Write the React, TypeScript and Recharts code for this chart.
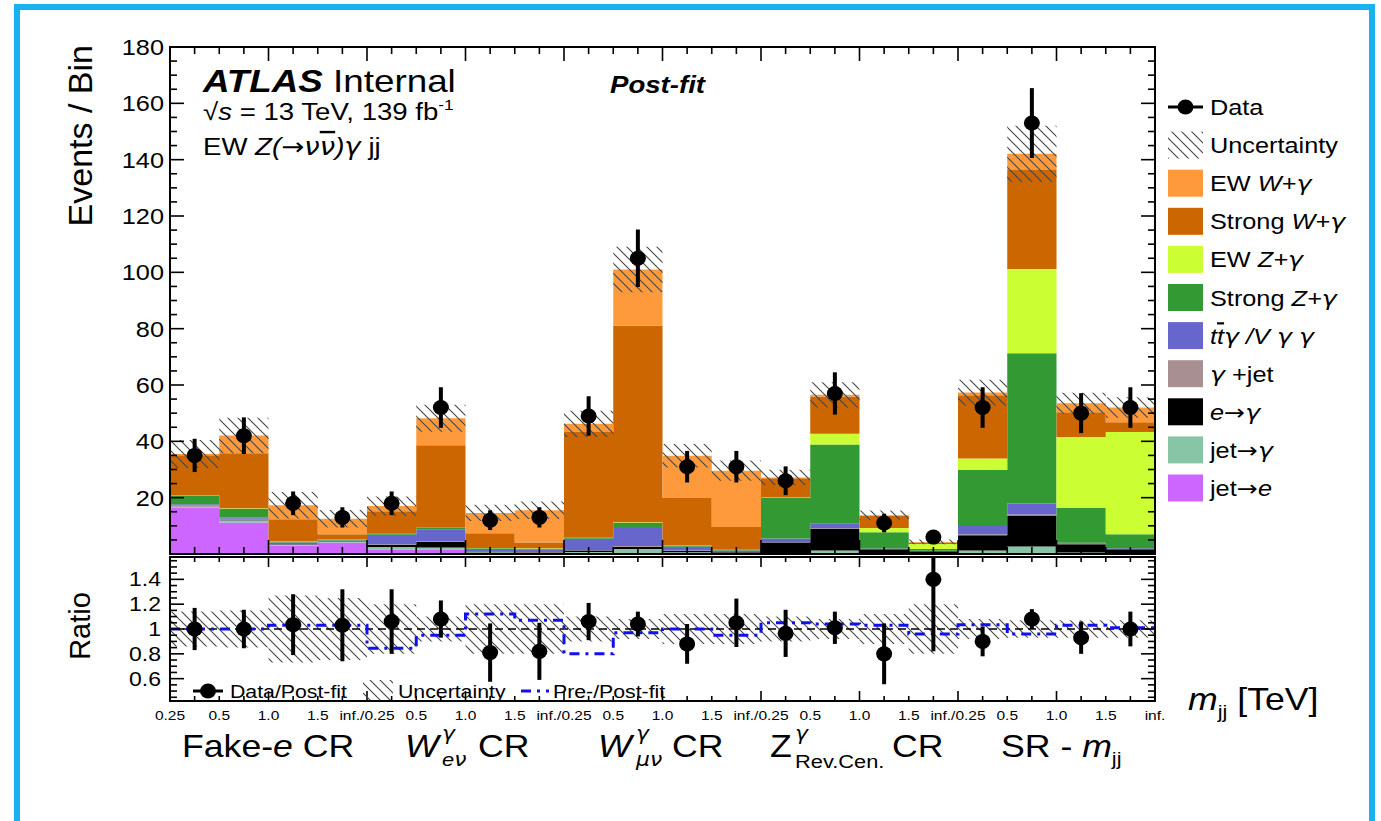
import React from "react";
import { ComposedChart, Area, Line, Scatter, ErrorBar, XAxis, YAxis, ReferenceLine } from "recharts";

// bin edge labels under the ratio panel (m_jj in TeV, 4 bins per region)
const edgeLabels = [
  "0.25", "0.5", "1.0", "1.5", "inf./0.25", "0.5", "1.0", "1.5", "inf./0.25", "0.5", "1.0",
  "1.5", "inf./0.25", "0.5", "1.0", "1.5", "inf./0.25", "0.5", "1.0", "1.5", "inf.",
];

// stacked backgrounds, bottom to top (events per bin)
const jetToE = [16.5, 11.2, 2.9, 4.1, 1.5, 1.5, 0.3, 0.2, 0.2, 0.3, 0.2, 0.1, 0, 0, 0, 0, 0, 0, 0, 0];
const jetToGamma = [0.3, 0.8, 0.3, 0.2, 1.0, 0.8, 0.3, 0.2, 0.5, 1.5, 0.4, 0.2, 0.3, 1.2, 0.3, 0.2, 1.2, 2.7, 0.5, 0.3];
const eToGamma = [0.1, 0.1, 0.2, 0.1, 0.8, 2.0, 0.3, 0.2, 0.5, 0.8, 0.5, 0.3, 3.8, 7.8, 1.4, 0.8, 5.5, 11.0, 3.0, 1.4];
const gammaJet = [0.3, 0.4, 0.1, 0.1, 0.2, 0.2, 0.1, 0.1, 0.1, 0.2, 0.1, 0.1, 0.1, 0.1, 0.05, 0.05, 0.3, 0.3, 0.1, 0.1];
const ttVgg = [0.5, 0.5, 0.6, 0.3, 3.3, 4.3, 0.8, 1.0, 4.1, 6.8, 1.4, 0.5, 1.3, 1.8, 0.2, 0.1, 2.9, 3.9, 0.4, 0.2];
const strongZ = [3.0, 3.1, 0.2, 0.4, 0.3, 0.4, 0.2, 0.2, 0.3, 1.5, 0.3, 0.2, 14.4, 28.0, 5.8, 0.65, 19.9, 53.4, 12.4, 5.0];
const ewZ = [0.1, 0.1, 0.1, 0.1, 0.1, 0.1, 0.1, 0.1, 0.1, 0.2, 0.1, 0.1, 0.2, 3.8, 1.5, 1.75, 4.1, 29.9, 25.1, 36.3];
const strongW = [14.3, 19.6, 7.9, 1.7, 8.0, 29.3, 5.3, 2.1, 37.5, 69.7, 16.9, 8.1, 6.8, 13.2, 4.25, 0.55, 22.5, 35.1, 8.8, 3.5];
const ewW = [0.4, 6.3, 5.0, 5.5, 1.8, 9.6, 7.2, 11.4, 2.9, 20.0, 15.0, 20.0, 0.3, 0.6, 0.3, 0.2, 0.9, 5.8, 3.2, 5.2];

// relative post-fit uncertainty per bin
const relUnc = [0.14, 0.15, 0.27, 0.25, 0.2, 0.1, 0.2, 0.2, 0.1, 0.08, 0.12, 0.12, 0.1, 0.08, 0.12, 0.2, 0.08, 0.07, 0.07, 0.07];

// data
const dataCounts = [35, 42, 18, 13, 18, 52, 12, 13, 49, 105, 31, 31, 26, 57, 11, 6, 52, 153, 50, 52];
const dataErr = [5.9, 6.5, 4.2, 3.6, 4.2, 7.2, 3.5, 3.6, 7.0, 10.2, 5.6, 5.6, 5.1, 7.5, 3.3, 2.4, 7.2, 12.4, 7.1, 7.2];

// ratio panel
const ratioVals = [1.0, 1.0, 1.035, 1.03, 1.06, 1.08, 0.81, 0.82, 1.06, 1.04, 0.88, 1.05, 0.965, 1.01, 0.8, 1.4, 0.9, 1.08, 0.93, 1.0];
const ratioErrLo = [0.17, 0.155, 0.245, 0.29, 0.26, 0.15, 0.235, 0.23, 0.15, 0.1, 0.16, 0.195, 0.19, 0.13, 0.245, 0.58, 0.12, 0.08, 0.13, 0.14];
const ratioErrHi = [0.17, 0.155, 0.245, 0.29, 0.26, 0.15, 0.235, 0.23, 0.15, 0.1, 0.16, 0.195, 0.19, 0.13, 0.245, 0.18, 0.12, 0.08, 0.13, 0.14];
const preOverPost = [1.0, 1.0, 1.03, 1.03, 0.845, 0.95, 1.12, 1.07, 0.8, 0.97, 1.0, 0.95, 1.05, 1.04, 1.03, 0.96, 1.035, 0.96, 1.03, 1.01];

const series = [
  { key: "jetE", vals: jetToE, color: "#cc66ff" },
  { key: "jetG", vals: jetToGamma, color: "#88c4a6" },
  { key: "eG", vals: eToGamma, color: "#000000" },
  { key: "gJet", vals: gammaJet, color: "#a89092" },
  { key: "tt", vals: ttVgg, color: "#6666cc" },
  { key: "strongZ", vals: strongZ, color: "#339933" },
  { key: "ewZ", vals: ewZ, color: "#ccff33" },
  { key: "strongW", vals: strongW, color: "#cc6600" },
  { key: "ewW", vals: ewW, color: "#ff9a3c" },
];

const FONT = "'Liberation Sans', Arial, Helvetica, sans-serif";
const SYM = "'DejaVu Sans', sans-serif";
const SX = 1.15;
const W = 1381;
const PL = 170;
const PR = 1155;
const PT = 47;
const PB = 554;
// ratio panel, in the ratio chart's own coordinates (chart placed at top 540)
const R_OFF = 540;
const RT = 557 - R_OFF;
const RB = 701 - R_OFF;

const nBins = dataCounts.length;
const mainRows = Array.from({ length: nBins + 1 }, (_, i) => {
  const b = Math.min(i, nBins - 1);
  const row: any = { x: i };
  let tot = 0;
  series.forEach((s) => {
    row[s.key] = s.vals[b];
    tot += s.vals[b];
  });
  row.band = [tot * (1 - relUnc[b]), tot * (1 + relUnc[b])];
  return row;
});
const dataPts = dataCounts.map((v, i) => ({ x: i + 0.5, y: v, err: dataErr[i] }));

const ratioRows = Array.from({ length: nBins + 1 }, (_, i) => {
  const b = Math.min(i, nBins - 1);
  return { x: i, band: [1 - relUnc[b], 1 + relUnc[b]], pre: preOverPost[b] };
});
const ratioPts = ratioVals.map((v, i) => ({ x: i + 0.5, y: v, err: [ratioErrLo[i], ratioErrHi[i]] }));

const halfTicks = Array.from({ length: 41 }, (_, i) => i / 2);
const mainYTicks = Array.from({ length: 37 }, (_, i) => i * 5);
const ratioYTicks = Array.from({ length: 23 }, (_, i) => Math.round((0.45 + i * 0.05) * 100) / 100);

function T({ x, y, size, anchor = "start", weight = "normal", italic = false, rotate = 0, children }: any) {
  const tr = rotate ? `translate(${x} ${y}) rotate(${rotate})` : `translate(${x} ${y}) scale(${SX} 1)`;
  return (
    <text transform={tr} fontSize={size} textAnchor={anchor} fontFamily={FONT} fontWeight={weight}
      fontStyle={italic ? "italic" : "normal"} fill="#000">
      {children}
    </text>
  );
}

const Arrow = () => <tspan fontFamily={SYM} fontStyle="normal">→</tspan>;
const G = ({ s }: { s: string }) => <tspan fontFamily={SYM} fontStyle="italic">{s}</tspan>;

const Hatch = ({ id }: { id: string }) => (
  <defs>
    <pattern id={id} patternUnits="userSpaceOnUse" width="10" height="10">
      <path d="M0,0 L10,10 M-5,5 L5,15 M5,-5 L15,5" stroke="#444" strokeWidth="1.1" />
    </pattern>
  </defs>
);

const MainXTick = (p: any) => {
  const x = p.x;
  const len = p.payload.value % 2 === 0 ? 14 : 7;
  return (
    <g stroke="#000" strokeWidth={1.6}>
      <line x1={x} x2={x} y1={PB} y2={PB - len} />
      <line x1={x} x2={x} y1={PT} y2={PT + len} />
    </g>
  );
};

const MainYTick = (p: any) => {
  const v = p.payload.value;
  const y = p.y;
  const major = v % 20 === 0;
  const len = major ? 14 : 7;
  return (
    <g>
      <g stroke="#000" strokeWidth={1.6}>
        <line x1={PL} x2={PL + len} y1={y} y2={y} />
        <line x1={PR} x2={PR - len} y1={y} y2={y} />
      </g>
      {major && v > 0 && (
        <T x={164} y={y + 8} size={22} anchor="end">{v}</T>
      )}
    </g>
  );
};

const RatioXTick = (p: any) => {
  const x = p.x;
  const v = p.payload.value;
  const len = v % 2 === 0 ? 10 : 5;
  return (
    <g>
      <g stroke="#000" strokeWidth={1.6}>
        <line x1={x} x2={x} y1={RB} y2={RB - len} />
        <line x1={x} x2={x} y1={RT} y2={RT + len} />
      </g>
      {Number.isInteger(v) && (
        <T x={x} y={RB + 19} size={13.5} anchor="middle">{edgeLabels[v]}</T>
      )}
    </g>
  );
};

const RatioYTick = (p: any) => {
  const v = p.payload.value;
  const y = p.y;
  const major = Math.abs(v * 5 - Math.round(v * 5)) < 1e-6;
  const len = major ? 14 : 7;
  return (
    <g>
      <g stroke="#000" strokeWidth={1.6}>
        <line x1={PL} x2={PL + len} y1={y} y2={y} />
        <line x1={PR} x2={PR - len} y1={y} y2={y} />
      </g>
      {major && v > 0.5 && v < 1.5 && (
        <T x={161} y={y + 7} size={20} anchor="end">{String(v)}</T>
      )}
    </g>
  );
};

const dot = (p: any) => <ellipse cx={p.cx} cy={p.cy} rx={8} ry={7.5} fill="#000" />;

function MainChart() {
  return (
    <ComposedChart width={W} height={575} data={mainRows} margin={{ top: PT, right: W - PR, bottom: 0, left: PL - 60 }}>
      <Hatch id="hatchMain" />
      <XAxis dataKey="x" type="number" domain={[0, 20]} ticks={halfTicks} interval={0} height={21}
        axisLine={false} tickLine={false} tick={MainXTick} />
      <YAxis type="number" domain={[0, 180]} ticks={mainYTicks} interval={0} width={60}
        axisLine={false} tickLine={false} tick={MainYTick} />
      {series.map((s) => (
        <Area key={s.key} dataKey={s.key} stackId="bkg" type="stepAfter" fill={s.color} fillOpacity={1}
          stroke="none" isAnimationActive={false} dot={false} activeDot={false} />
      ))}
      <Area dataKey="band" type="stepAfter" fill="url(#hatchMain)" fillOpacity={1} stroke="none"
        isAnimationActive={false} dot={false} activeDot={false} />
      <Scatter data={dataPts} dataKey="y" shape={dot} isAnimationActive={false}>
        <ErrorBar dataKey="err" direction="y" width={0} stroke="#000" strokeWidth={4} />
      </Scatter>
    </ComposedChart>
  );
}

function RatioChart() {
  return (
    <ComposedChart width={W} height={190} data={ratioRows} margin={{ top: RT, right: W - PR, bottom: 0, left: PL - 60 }}>
      <Hatch id="hatchRatio" />
      <XAxis dataKey="x" type="number" domain={[0, 20]} ticks={halfTicks} interval={0} height={190 - RB}
        axisLine={false} tickLine={false} tick={RatioXTick} />
      <YAxis type="number" domain={[0.42, 1.58]} ticks={ratioYTicks} interval={0} width={60}
        axisLine={false} tickLine={false} tick={RatioYTick} />
      <Area dataKey="band" type="stepAfter" fill="url(#hatchRatio)" fillOpacity={1} stroke="none"
        isAnimationActive={false} dot={false} activeDot={false} />
      <ReferenceLine y={1} stroke="#000" strokeWidth={1.5} strokeDasharray="8 5" />
      <Line dataKey="pre" type="stepAfter" stroke="#1010f0" strokeWidth={3} strokeDasharray="10 6 3 6"
        dot={false} activeDot={false} isAnimationActive={false} />
      <Scatter data={ratioPts} dataKey="y" shape={dot} isAnimationActive={false}>
        <ErrorBar dataKey="err" direction="y" width={0} stroke="#000" strokeWidth={4} />
      </Scatter>
    </ComposedChart>
  );
}

const legendOrder = ["ewW", "strongW", "ewZ", "strongZ", "tt", "gJet", "eG", "jetG", "jetE"];

function legendLabel(key: string) {
  const it = (s: string) => <tspan fontStyle="italic">{s}</tspan>;
  switch (key) {
    case "ewW": return <>EW {it("W+")}<G s="γ" /></>;
    case "strongW": return <>Strong {it("W+")}<G s="γ" /></>;
    case "ewZ": return <>EW {it("Z+")}<G s="γ" /></>;
    case "strongZ": return <>Strong {it("Z+")}<G s="γ" /></>;
    case "tt": return (
      <tspan fontStyle="italic">t<tspan style={{ textDecoration: "overline" }}>t</tspan><G s="γ" /> /V <G s="γ" /> <G s="γ" /></tspan>
    );
    case "gJet": return <><G s="γ" /> +jet</>;
    case "eG": return <>{it("e")}<Arrow /><G s="γ" /></>;
    case "jetG": return <>jet<Arrow /><G s="γ" /></>;
    default: return <>jet<Arrow />{it("e")}</>;
  }
}

function Overlay() {
  const legY = (i: number) => 107 + 38.1 * i;
  return (
    <svg width={W} height={821} style={{ position: "absolute", left: 0, top: 0, pointerEvents: "none" }}>
      <Hatch id="hatchLeg" />
      {/* frames */}
      <rect x={PL} y={PT} width={PR - PL} height={PB - PT} fill="none" stroke="#000" strokeWidth={2} />
      <rect x={PL} y={RT + R_OFF} width={PR - PL} height={RB - RT} fill="none" stroke="#000" strokeWidth={2} />
      {/* outer blue border */}
      <rect x={17} y={7} width={1355} height={840} fill="none" stroke="#19b1ee" strokeWidth={6} />

      {/* axis titles */}
      <T x={92} y={45} size={34} anchor="end" rotate={-90}>Events / Bin</T>
      <T x={90} y={626} size={29} anchor="middle" rotate={-90}>Ratio</T>

      {/* ATLAS label */}
      <T x={203} y={92} size={32}>
        <tspan fontWeight="bold" fontStyle="italic">ATLAS</tspan> Internal
      </T>
      <T x={203} y={120} size={24}>
        √<tspan fontStyle="italic">s</tspan> = 13 TeV, 139 fb<tspan fontSize={15} dy={-10}>-1</tspan>
      </T>
      <T x={203} y={155} size={24}>
        EW <tspan fontStyle="italic">Z(</tspan><Arrow /><G s="ν" /><tspan fontFamily={SYM} fontStyle="italic" style={{ textDecoration: "overline" }}>ν</tspan><tspan fontStyle="italic">)</tspan><G s="γ" />  jj
      </T>
      <T x={610} y={93} size={24} weight="bold" italic>Post-fit</T>

      {/* main legend */}
      <line x1={1168} x2={1203} y1={legY(0)} y2={legY(0)} stroke="#000" strokeWidth={3} />
      <ellipse cx={1185.5} cy={legY(0)} rx={8} ry={7.5} fill="#000" />
      <T x={1210} y={legY(0) + 8} size={22}>Data</T>
      <rect x={1168} y={legY(1) - 13.5} width={35} height={27} fill="url(#hatchLeg)" />
      <T x={1210} y={legY(1) + 8} size={22}>Uncertainty</T>
      {legendOrder.map((k, i) => {
        const s = series.find((d) => d.key === k)!;
        const y = legY(i + 2);
        return (
          <g key={k}>
            <rect x={1168} y={y - 13.5} width={35} height={27} fill={s.color} />
            <T x={1210} y={y + 8} size={22}>{legendLabel(k)}</T>
          </g>
        );
      })}

      {/* ratio legend */}
      <line x1={193} x2={223} y1={691} y2={691} stroke="#000" strokeWidth={3} />
      <ellipse cx={208} cy={691} rx={8} ry={7.5} fill="#000" />
      <T x={230} y={698} size={18.5}>Data/Post-fit</T>
      <rect x={363} y={680} width={30} height={20} fill="url(#hatchLeg)" />
      <T x={398} y={698} size={18.5}>Uncertainty</T>
      <line x1={521} x2={549} y1={691} y2={691} stroke="#1010f0" strokeWidth={3} strokeDasharray="10 6 3 6" />
      <T x={553} y={698} size={18.5}>Pre-/Post-fit</T>

      {/* x axis title */}
      <T x={1188} y={710} size={31}>
        <tspan fontStyle="italic">m</tspan><tspan fontSize={19} dy={8}>jj</tspan><tspan dy={-8}> [TeV]</tspan>
      </T>

      {/* region labels */}
      <T x={182} y={757} size={31}>Fake-<tspan fontStyle="italic">e</tspan> CR</T>
      <T x={405} y={757} size={31} italic>W</T>
      <T x={442} y={740} size={19}><G s="γ" /></T>
      <T x={442} y={766} size={19}><tspan fontStyle="italic">e</tspan><G s="ν" /></T>
      <T x={478} y={757} size={31}>CR</T>
      <T x={598} y={757} size={31} italic>W</T>
      <T x={636} y={740} size={19}><G s="γ" /></T>
      <T x={636} y={766} size={19}><G s="μν" /></T>
      <T x={672} y={757} size={31}>CR</T>
      <T x={770} y={757} size={31}>Z</T>
      <T x={795} y={740} size={19}><G s="γ" /></T>
      <T x={795} y={768} size={19}>Rev.Cen.</T>
      <T x={892} y={757} size={31}>CR</T>
      <T x={1001} y={757} size={31}>SR - <tspan fontStyle="italic">m</tspan><tspan fontSize={19} dy={8}>jj</tspan></T>
    </svg>
  );
}

export default function App() {
  return (
    <div style={{ position: "absolute", left: 0, top: 0, width: W, height: 821, overflow: "hidden", background: "#fff" }}>
      <div style={{ position: "absolute", left: 0, top: 0 }}>
        <MainChart />
      </div>
      <div style={{ position: "absolute", left: 0, top: R_OFF }}>
        <RatioChart />
      </div>
      <Overlay />
    </div>
  );
}
